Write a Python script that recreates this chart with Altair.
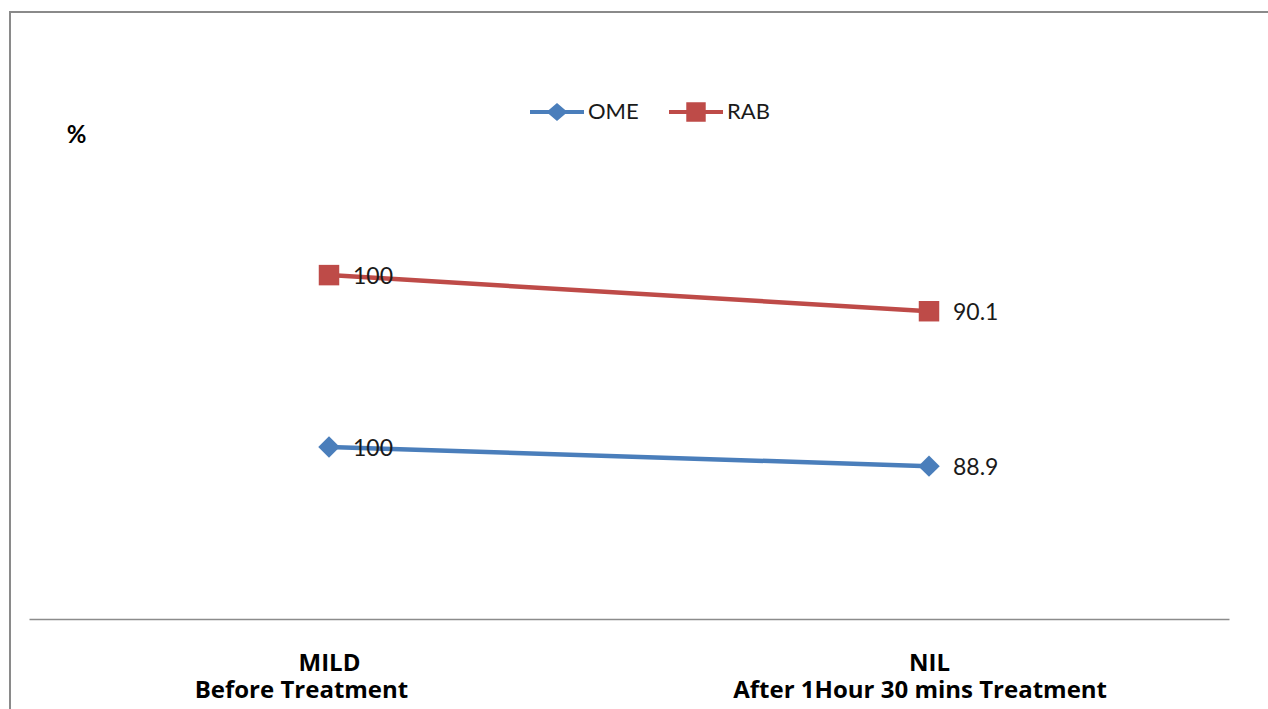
import altair as alt
import pandas as pd

# Categories and series values (second label lines carry trailing padding)
PAD = "\u00a0"
END = "\u2060"
stages = [
    "MILD\nBefore Treatment" + PAD * 9 + END,
    "NIL\nAfter 1Hour 30 mins Treatment" + PAD * 3 + END,
]
series_names = ["OME", "RAB"]
ome_values = [100, 88.9]
rab_values = [100, 90.1]

colors = ["#4A7EBB", "#BE4B48"]
font = "Lato"
axis_font = "Open Sans"

rows = []
for i, stage in enumerate(stages):
    rows.append({"stage": stage, "series": "OME", "order": 0, "value": ome_values[i]})
    rows.append({"stage": stage, "series": "RAB", "order": 1, "value": rab_values[i]})
df = pd.DataFrame(rows)

# Legend glyphs: a line segment with the series marker in the middle
diamond_glyph = ("M-1,-0.07 L1,-0.07 L1,0.07 L-1,0.07 Z "
                 "M-0.39,0 L0,-0.33 L0.39,0 L0,0.33 Z")
square_glyph = ("M-1,-0.07 L1,-0.07 L1,0.07 L-1,0.07 Z "
                "M-0.36,-0.36 L0.36,-0.36 L0.36,0.36 L-0.36,0.36 Z")

x_enc = alt.X(
    "stage:N",
    sort=stages,
    scale=alt.Scale(type="point", padding=0.5),
    axis=alt.Axis(
        title=None,
        labelExpr="split(datum.label, '\\n')",
        labelAngle=0,
        labelFont=axis_font,
        labelFontSize=24,
        labelFontWeight="bold",
        labelColor="#000000",
        labelLineHeight=27,
        labelPadding=32,
        labelLimit=0,
        labelOverlap=False,
        ticks=False,
        domainColor="#8C8C8C",
        domainWidth=1.5,
        grid=False,
    ),
)

y_enc = alt.Y(
    "y1:Q",
    scale=alt.Scale(domain=[0, 360], nice=False),
    axis=alt.Axis(
        title="%",
        titleAngle=0,
        titleFont=font,
        titleFontSize=24,
        titleFontWeight="bold",
        titleColor="#000000",
        titleX=47,
        titleY=135,
        titleAlign="center",
        titleBaseline="middle",
        labels=False,
        ticks=False,
        domain=False,
        grid=False,
    ),
)

color_scale = alt.Scale(domain=series_names, range=colors)

base = alt.Chart(df).transform_stack(
    stack="value", groupby=["stage"], as_=["y0", "y1"], sort=[alt.SortField("order")]
)

lines = base.mark_line(strokeWidth=4.5, strokeCap="round").encode(
    x=x_enc,
    y=y_enc,
    color=alt.Color("series:N", scale=color_scale, legend=None),
    detail="series:N",
)

ome_points = base.transform_filter(alt.datum.series == "OME").mark_point(
    shape="diamond", filled=True, size=460, opacity=1
).encode(x=x_enc, y=y_enc, color=alt.Color("series:N", scale=color_scale, legend=None))

rab_points = base.transform_filter(alt.datum.series == "RAB").mark_point(
    shape="square", filled=True, size=420, opacity=1
).encode(x=x_enc, y=y_enc, color=alt.Color("series:N", scale=color_scale, legend=None))

labels = base.mark_text(
    align="left", baseline="middle", dx=24, dy=2, font=font, fontSize=23, color="#1A1A1A"
).encode(x=x_enc, y=y_enc, text=alt.Text("value:Q"))

legend_props = dict(
    title=None,
    orient="none",
    legendX=501,
    legendY=85,
    direction="horizontal",
    padding=0,
    labelFont=font,
    labelFontSize=22,
    labelColor="#1A1A1A",
    labelOffset=4,
    columnPadding=30,
    symbolSize=2916,
    symbolOpacity=1,
    symbolStrokeWidth=0,
)

legend_layer = base.mark_point(filled=True, opacity=0, size=2916).encode(
    x=x_enc,
    y=y_enc,
    color=alt.Color("series:N", scale=color_scale, legend=alt.Legend(**legend_props)),
    shape=alt.Shape(
        "series:N",
        scale=alt.Scale(domain=series_names, range=[diamond_glyph, square_glyph]),
        legend=alt.Legend(**legend_props),
    ),
)

# Outer chart frame
frame = alt.Chart(alt.Data(values=[{"f": 1}])).mark_rect(
    filled=False, stroke="#8A8A8A", strokeWidth=2
).encode(
    x=alt.value(-19), x2=alt.value(1300), y=alt.value(12), y2=alt.value(800)
)

chart = alt.layer(frame, legend_layer, lines, ome_points, rab_points, labels).resolve_legend(
    color="independent", shape="independent"
).properties(
    width=1200,
    height=619,
    padding={"left": 29, "right": 39, "top": 0, "bottom": 90},
    autosize=alt.AutoSizeParams(type="none"),
    background="#FFFFFF",
).configure_view(strokeWidth=0)

chart.save("out.html", embed_options={"renderer": "svg", "actions": False})
